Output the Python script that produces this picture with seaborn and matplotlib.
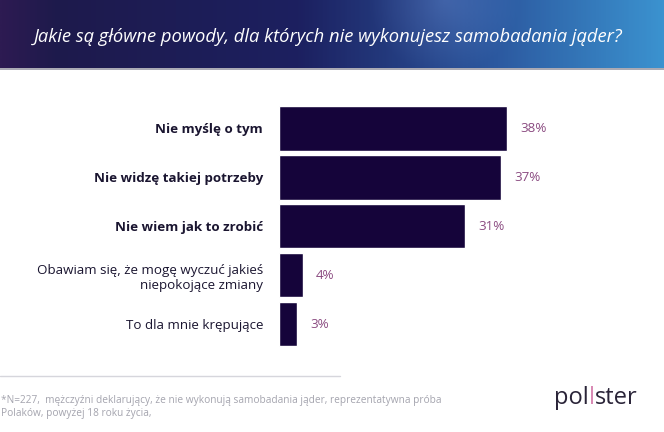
import numpy as np
import pandas as pd
import matplotlib
matplotlib.use("Agg")
import matplotlib.pyplot as plt
import seaborn as sns
from matplotlib.colors import LinearSegmentedColormap
from matplotlib.offsetbox import TextArea, HPacker, AnchoredOffsetbox

# Data
reasons = [
    "Nie myślę o tym",
    "Nie widzę takiej potrzeby",
    "Nie wiem jak to zrobić",
    "Obawiam się, że mogę wyczuć jakieś\nniepokojące zmiany",
    "To dla mnie krępujące",
]
shares = [38, 37, 31, 4, 3]
bold_rows = [True, True, True, False, False]

title = "Jakie są główne powody, dla których nie wykonujesz samobadania jąder?"
footnote = ("*N=227,  mężczyźni deklarujący, że nie wykonują samobadania jąder, reprezentatywna próba\n"
            "Polaków, powyżej 18 roku życia,")

df = pd.DataFrame({"reason": reasons, "share": shares})

sns.set_theme(style="white")
plt.rcParams['font.family'] = ['Open Sans', 'DejaVu Sans']

fig = plt.figure(figsize=(6.64, 4.32), dpi=100)

# Header banner with gradient
banner = fig.add_axes([0, 1 - 68 / 432, 1, 68 / 432])
xs = np.linspace(0, 1, 400)
ys = np.linspace(0, 1, 60)
X, Y = np.meshgrid(xs, ys)
cmap = LinearSegmentedColormap.from_list(
    "hdr", [(0.0, "#2d1b52"), (0.08, "#1e1a4c"), (0.45, "#1c2060"),
            (0.75, "#2c59a0"), (1.0, "#3b92cf")])
img = cmap(X)[..., :3]
# soft glow near the top
d = np.sqrt(((X - 0.67) * 6.64) ** 2 + ((Y - 0.0) * 0.68) ** 2)
glow = np.clip(1 - d / 0.75, 0, 1) * 0.10
img = np.clip(img + glow[..., None], 0, 1)
banner.imshow(img, aspect="auto", extent=[0, 1, 0, 1], origin="upper")
banner.set_axis_off()
banner.text(0.494, 0.46, title, color="white", fontsize=13.2, style="italic",
            ha="center", va="center", transform=banner.transAxes)

# separator under banner
fig.add_artist(plt.Line2D([0, 1], [1 - 69 / 432, 1 - 69 / 432], color="#9a9aa6", lw=1.2))

# Bar chart
ax = fig.add_axes([279 / 664, 1 - 348.5 / 432, 360 / 664, 244.5 / 432])
sns.barplot(data=df, x="share", y="reason", color="#15043a", width=0.91,
            saturation=1, ax=ax)
ax.set_xlim(0, 60)
ax.set_xlabel("")
ax.set_ylabel("")
ax.set_xticks([])
sns.despine(ax=ax, left=True, bottom=True)
ax.tick_params(axis="y", length=0, pad=11.5)
for lbl, b in zip(ax.get_yticklabels(), bold_rows):
    lbl.set_fontsize(9.6)
    lbl.set_color("#1a1530")
    lbl.set_fontweight("bold" if b else "normal")
    lbl.set_multialignment("right")
for i, v in enumerate(shares):
    ax.annotate(f"{v}%", xy=(v, i), xytext=(9.5, 0), textcoords="offset points",
                va="center", ha="left", fontsize=9.6, color="#8a4a80")

# Footer
fig.add_artist(plt.Line2D([0, 340 / 664], [1 - 376 / 432, 1 - 376 / 432],
                          color="#d6d6dc", lw=1))
fig.text(1 / 664, 1 - 407 / 432, footnote, fontsize=7.3, color="#a4a4ae",
         ha="left", va="center", linespacing=1.3)

parts = [TextArea(t, textprops=dict(fontsize=17, color=c, family="Open Sans"))
         for t, c in [("pol", "#2a2438"), ("l", "#d98ab4"), ("ster", "#2a2438")]]
logo = HPacker(children=parts, pad=0, sep=0, align="baseline")
box = AnchoredOffsetbox(loc="center", child=logo, frameon=False,
                        bbox_to_anchor=(596 / 664, 1 - 398 / 432),
                        bbox_transform=fig.transFigure, borderpad=0)
fig.add_artist(box)

plt.savefig("out.png", dpi=100)
